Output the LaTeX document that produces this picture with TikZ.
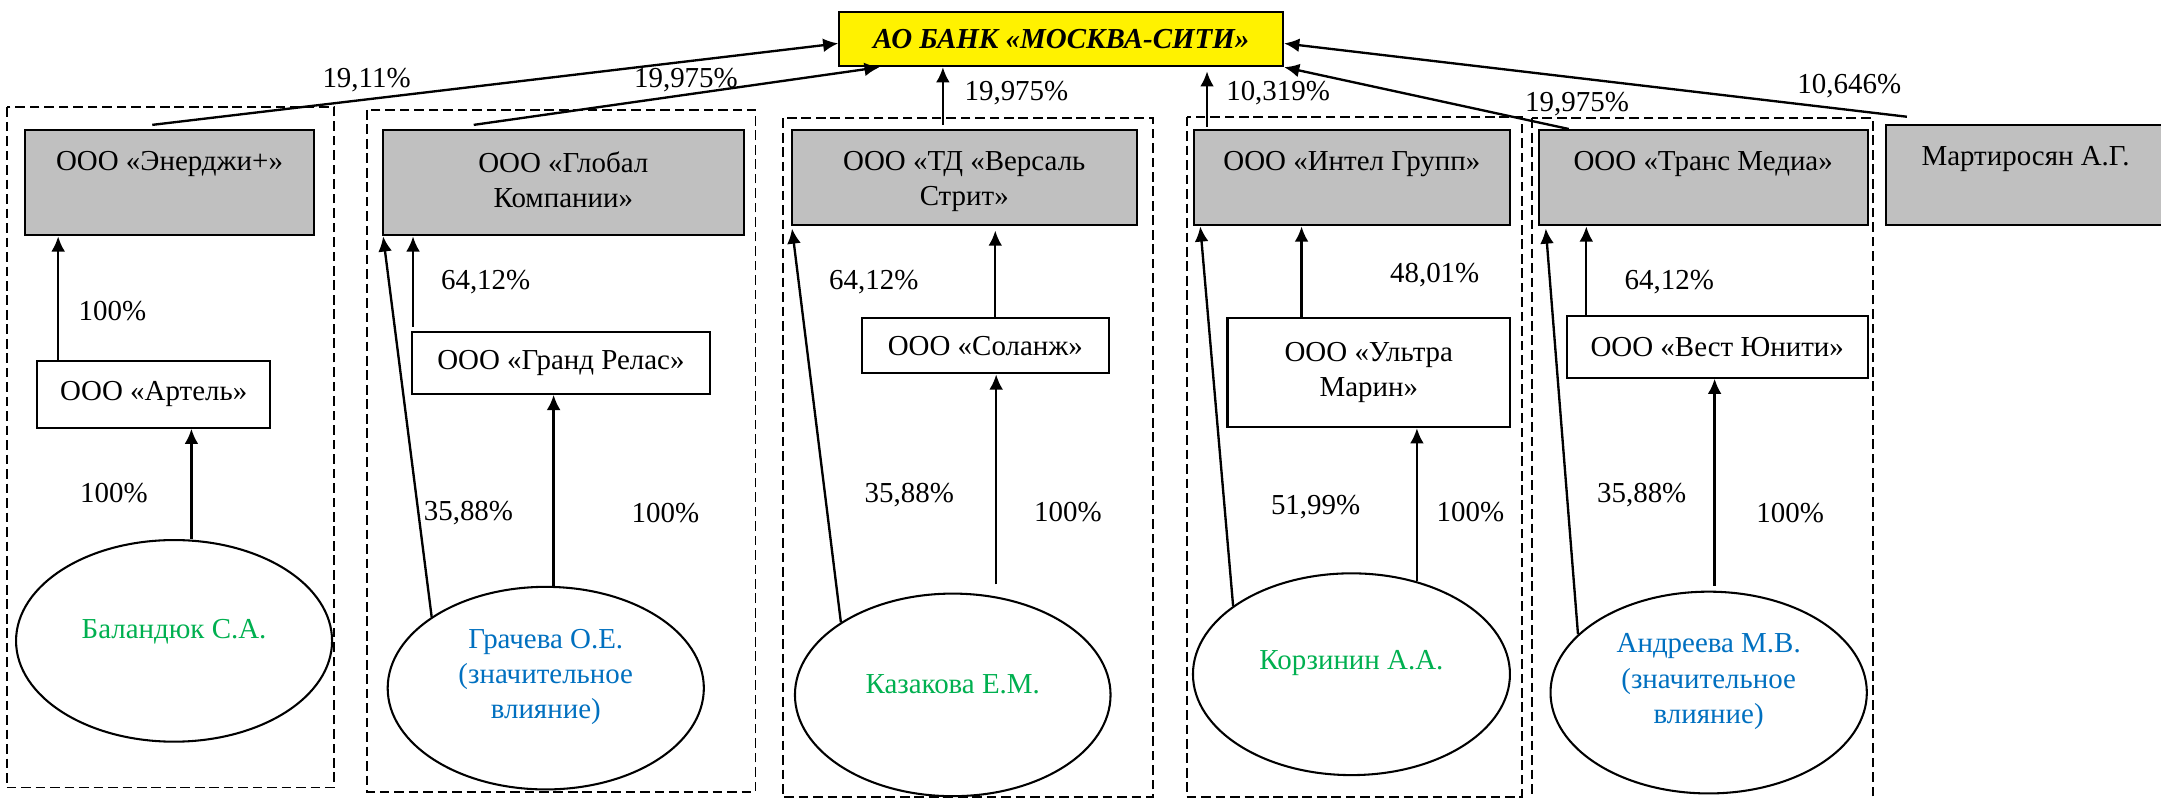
\documentclass[tikz,border=0pt]{standalone}
\usepackage{fontspec}
\setmainfont{Liberation Serif}
\usetikzlibrary{arrows.meta, shapes.geometric}

\definecolor{boxgray}{RGB}{192,192,192}
\definecolor{fiogreen}{RGB}{0,176,80}
\definecolor{fioblue}{RGB}{0,112,192}

\begin{document}
\begin{tikzpicture}[x=1pt,y=-1pt,
  font=\fontsize{21}{25.5}\selectfont,
  grbox/.style={draw, line width=1.5pt, fill=boxgray, inner sep=0pt, anchor=north west},
  whbox/.style={draw, line width=1.5pt, fill=white, inner sep=0pt, align=center, anchor=north west},
  person/.style={draw, ellipse, line width=1.5pt, fill=white, inner sep=0pt},
  boxtext/.style={anchor=north, align=center, inner sep=0pt},
  grp/.style={line width=1.4pt, dash pattern=on 7pt off 3.5pt},
  conn/.style={line width=1.7pt, -{Latex[length=11pt,width=10pt]}},
  pct/.style={inner sep=0pt}]

\useasboundingbox (0,0) rectangle (1568,579);

% group frames
\draw[grp] (4.9,77.9) rectangle (242.5,571.4);
\draw[grp] (266.3,79.8) rectangle (548.2,574.5);
\draw[grp] (567.8,85.9) rectangle (836.6,578.2);
\draw[grp] (861,84.7) rectangle (1104,578.2);
\draw[grp] (1111.6,85.9) rectangle (1358.8,581);

% bank
\node[draw, line width=1.5pt, fill=yellow, minimum width=322pt, minimum height=39pt, inner sep=0pt]
  (bank) at (770,28.5) {\bfseries\itshape АО БАНК «МОСКВА-СИТИ»};

% shareholders
\node[grbox, minimum width=209.3pt, minimum height=76.4pt] (enr) at (17.6,93.6) {};
\node[grbox, minimum width=262pt, minimum height=76.4pt] (glb) at (277,93.6) {};
\node[grbox, minimum width=250.4pt, minimum height=69.2pt] (tdv) at (573.7,93.6) {};
\node[grbox, minimum width=229.7pt, minimum height=68.9pt] (int) at (865.3,93.9) {};
\node[grbox, minimum width=238.9pt, minimum height=69.2pt] (trm) at (1115.6,93.6) {};
\node[grbox, minimum width=206pt, minimum height=72.6pt] (mrt) at (1368,90.2) {};

\node[boxtext] (enrtxt) at ([yshift=-16pt]enr.north) {ООО «Энерджи+»};
\node[boxtext] (glbtxt) at ([yshift=-16pt]glb.north) {ООО «Глобал\\Компании»};
\node[boxtext] (tdvtxt) at ([yshift=-16pt]tdv.north) {ООО «ТД «Версаль\\Стрит»};
\node[boxtext] (inttxt) at ([yshift=-16pt]int.north) {ООО «Интел Групп»};
\node[boxtext] (trmtxt) at ([yshift=-16pt]trm.north) {ООО «Транс Медиа»};
\node[boxtext] (mrttxt) at ([xshift=-2pt,yshift=-16pt]mrt.north) {Мартиросян А.Г.};

% second level
\node[whbox, minimum width=168.8pt, minimum height=48.3pt] (art) at (26.4,261.3) {ООО «Артель»};
\node[whbox, minimum width=215.9pt, minimum height=44.8pt] (grd) at (298.3,240.2) {ООО «Гранд Релас»};
\node[whbox, minimum width=179pt, minimum height=39.9pt] (sol) at (624.7,230.3) {ООО «Соланж»};
\node[whbox, minimum width=205.1pt, minimum height=79.4pt] (ult) at (889.9,229.8) {ООО «Ультра\\Марин»};
\node[whbox, minimum width=218.5pt, minimum height=44.7pt] (vst) at (1136,228.6) {ООО «Вест Юнити»};

% persons
\node[person, minimum width=229.3pt, minimum height=146.3pt] (bal) at (126.3,465) {};
\node[person, minimum width=229.4pt, minimum height=147pt] (gra) at (396,499.3) {};
\node[person, minimum width=229pt, minimum height=147pt] (kaz) at (691.3,504.2) {};
\node[person, minimum width=230pt, minimum height=146.4pt] (kor) at (980.6,489.2) {};
\node[person, minimum width=229.5pt, minimum height=146.4pt] (adr) at (1239.8,502.5) {};

\node[text=fiogreen, align=center] (baltxt) at ([yshift=7pt]bal.center) {Баландюк С.А.};
\node[text=fioblue, align=center] (gratxt) at ([yshift=8pt]gra.center) {Грачева О.Е.\\(значительное\\влияние)};
\node[text=fiogreen, align=center] (kaztxt) at ([yshift=8pt]kaz.center) {Казакова Е.М.};
\node[text=fiogreen, align=center] (kortxt) at ([yshift=8pt]kor.center) {Корзинин А.А.};
\node[text=fioblue, align=center] (adrtxt) at ([yshift=8pt]adr.center) {Андреева М.В.\\(значительное\\влияние)};

% into the bank
\draw[conn] ([xshift=-12.5pt,yshift=3pt]enr.north) -- ([yshift=-3pt]bank.west);
\draw[conn] ([xshift=-65pt,yshift=3pt]glb.north) -- ([xshift=30pt]bank.south west);
\draw[conn] ([xshift=-15.5pt,yshift=3pt]tdv.north) -- ([xshift=-15.5pt]tdv.north |- bank.south);
\draw[conn] ([xshift=10.5pt,yshift=2pt]int.north west) -- ([xshift=10.5pt,yshift=-3pt]int.north west |- bank.south);
\draw[conn] ([xshift=22.7pt]trm.north west) -- (bank.south east);
\draw[conn] ([xshift=15.6pt,yshift=5.5pt]mrt.north west) -- ([yshift=-3pt]bank.east);

% group 1
\draw[conn] ([xshift=12.6pt]bal.north) -- ([xshift=12.6pt]bal.north |- art.south);
\draw[conn] ([xshift=15.8pt]art.north west) -- ([xshift=15.8pt]art.north west |- enr.south);
% group 2
\draw[conn] (gra.148) -- ([xshift=1pt]glb.south west);
\draw[conn] ([xshift=5.7pt]gra.north) -- ([xshift=5.7pt]gra.north |- grd.south);
\draw[conn] ([xshift=1.4pt,yshift=3pt]grd.north west) -- ([xshift=1.4pt]grd.north west |- glb.south);
% group 3
\draw[conn] (kaz.147) -- ([xshift=1pt,yshift=-1.5pt]tdv.south west);
\draw[conn] ([xshift=31.5pt,yshift=6pt]kaz.north) -- ([xshift=31.5pt]kaz.north |- sol.south);
\draw[conn] ([xshift=7.2pt]sol.north) -- ([xshift=7.2pt,yshift=-3pt]sol.north |- tdv.south);
% group 4
\draw[conn] (kor.150) -- ([xshift=5.6pt]int.south west);
\draw[conn] ([xshift=47.5pt,yshift=-6.5pt]kor.north) -- ([xshift=47.5pt]kor.north |- ult.south);
\draw[conn] ([xshift=54.5pt]ult.north west) -- ([xshift=54.5pt]ult.north west |- int.south);
% group 5
\draw[conn] (adr.156) -- ([xshift=6pt,yshift=-1.5pt]trm.south west);
\draw[conn] ([xshift=4.3pt,yshift=3.6pt]adr.north) -- ([xshift=4.3pt]adr.north |- vst.south);
\draw[conn] ([xshift=15pt]vst.north west) -- ([xshift=15pt]vst.north west |- trm.south);

% shares
\foreach \x/\y/\t [count=\i] in {266/58/{19,11\%}, 497.7/58/{19,975\%}, 737.5/67.7/{19,975\%},
    927.4/67.7/{10,319\%}, 1144.3/75.5/{19,975\%}, 1341.8/62.4/{10,646\%},
    81.6/226/{100\%}, 82.7/358/{100\%},
    352.4/205/{64,12\%}, 339.9/372.5/{35,88\%}, 482.8/372.5/{100\%},
    634/204.4/{64,12\%}, 659.8/359.2/{35,88\%}, 774.9/371.3/{100\%},
    1041/199.6/{48,01\%}, 954.6/367.7/{51,99\%}, 1066.9/371.3/{100\%},
    1211.2/205/{64,12\%}, 1191.2/359.2/{35,88\%}, 1298.9/372.5/{100\%}}
  \node[pct] (share\i) at (\x,\y) {\t};
\end{tikzpicture}
\end{document}
